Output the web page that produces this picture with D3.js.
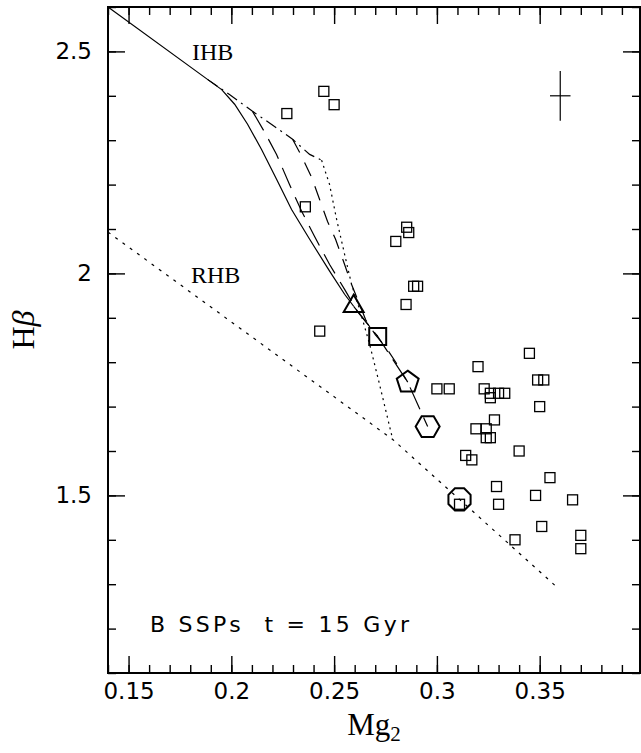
<!DOCTYPE html>
<html>
<head>
<meta charset="utf-8">
<script src="https://cdn.jsdelivr.net/npm/d3@7"></script>
<style>
  body { margin: 0; background: #fff; }
</style>
</head>
<body>
<div id="chart"></div>
<script>
// observed galaxies (Mg2, Hbeta)
var obsMg2 = [0.245, 0.250, 0.227, 0.236, 0.243, 0.285, 0.280, 0.2853, 0.2863, 0.2887, 0.2906,
  0.320, 0.300, 0.306, 0.323, 0.326, 0.330, 0.333, 0.326, 0.345, 0.349, 0.352, 0.350,
  0.328, 0.319, 0.324, 0.324, 0.326, 0.340, 0.314, 0.317, 0.355, 0.329, 0.348, 0.366,
  0.311, 0.330, 0.351, 0.338, 0.370, 0.370];
var obsHb = [2.41, 2.38, 2.36, 2.15, 1.87, 1.93, 2.072, 2.104, 2.092, 1.971, 1.971,
  1.79, 1.74, 1.74, 1.74, 1.73, 1.73, 1.73, 1.72, 1.82, 1.76, 1.76, 1.70,
  1.67, 1.65, 1.65, 1.63, 1.63, 1.60, 1.59, 1.58, 1.54, 1.52, 1.50, 1.49,
  1.48, 1.48, 1.43, 1.40, 1.41, 1.38];

// B SSP models, one symbol per metallicity
var sspShape = ["triangle", "square", "pentagon", "hexagon", "octagon"];
var sspMg2 = [0.2595, 0.2712, 0.2858, 0.2955, 0.311];
var sspHb = [1.926, 1.858, 1.755, 1.655, 1.491];

// IHB sequence and the mixed tracks
var ihbMg2 = [0.14, 0.1884, 0.1953, 0.2016, 0.2079, 0.2147, 0.2220, 0.2293, 0.2381, 0.2478, 0.2551, 0.2595];
var ihbHb = [2.60, 2.437, 2.414, 2.381, 2.336, 2.279, 2.212, 2.144, 2.077, 2.005, 1.953, 1.926];

var upMg2 = [0.1884, 0.1991, 0.2103, 0.2210, 0.2298, 0.2381, 0.2439];
var upHb = [2.437, 2.403, 2.365, 2.331, 2.302, 2.268, 2.255];

var mixAMg2 = [0.2103, 0.2162, 0.2220, 0.2283, 0.2342, 0.2405, 0.2478, 0.2551, 0.2614, 0.2712];
var mixAHb = [2.365, 2.318, 2.268, 2.200, 2.140, 2.083, 2.020, 1.964, 1.914, 1.858];

var mixBMg2 = [0.2298, 0.2342, 0.2391, 0.2429, 0.2468, 0.2507, 0.2551, 0.2585, 0.2624, 0.2653,
  0.2700, 0.2750, 0.2800, 0.2858];
var mixBHb = [2.302, 2.264, 2.216, 2.167, 2.117, 2.077, 2.020, 1.975, 1.930, 1.896,
  1.862, 1.835, 1.800, 1.755];

var mixCMg2 = [0.2439, 0.2478, 0.2512, 0.2551, 0.2585, 0.2624, 0.2673, 0.2721, 0.2785];
var mixCHb = [2.255, 2.200, 2.122, 2.043, 1.975, 1.919, 1.840, 1.750, 1.626];

// RHB sequence
var rhbMg2 = [0.14, 0.2785, 0.311, 0.358];
var rhbHb = [2.093, 1.626, 1.491, 1.295];

// typical error
var errMg2 = 0.36, errHb = 2.40, errDx = 0.005, errDy = 0.056;

var xMajor = [0.15, 0.2, 0.25, 0.3, 0.35];
var yMajor = [1.5, 2, 2.5];

var width = 641, height = 753;
var padL = 108, padR = 640, padT = 7, padB = 673;

var svg = d3.select("#chart").append("svg")
  .attr("width", width)
  .attr("height", height);

var x = d3.scaleLinear().domain([0.14, 0.3988]).range([padL, padR]);
var y = d3.scaleLinear().domain([1.1, 2.6]).range([padB, padT]);

var xMinor = d3.range(14, 40).map(function(d) { return d / 100; });
var yMinor = d3.range(11, 27).map(function(d) { return d / 10; });

function ticks(axisFn, scale, pos, values, size, labels, pad) {
  var g = svg.append("g")
    .attr("transform", pos)
    .call(axisFn(scale).tickValues(values).tickSize(-size).tickPadding(pad || 12)
      .tickFormat(labels ? function(d) { return d; } : ""));
  g.select(".domain").remove();
  g.selectAll(".tick line").attr("stroke", "#000").attr("stroke-width", 1.4);
  g.selectAll("text")
    .attr("font-family", "DejaVu Sans")
    .attr("font-size", 23)
    .attr("fill", "#000");
  return g;
}

ticks(d3.axisBottom, x, "translate(0," + padB + ")", xMinor, 8, false);
ticks(d3.axisBottom, x, "translate(0," + padB + ")", xMajor, 17, true, 10);
ticks(d3.axisTop, x, "translate(0," + padT + ")", xMinor, 8, false);
ticks(d3.axisTop, x, "translate(0," + padT + ")", xMajor, 17, false);
ticks(d3.axisLeft, y, "translate(" + padL + ",0)", yMinor, 8, false);
ticks(d3.axisLeft, y, "translate(" + padL + ",0)", yMajor, 17, true, 16);
ticks(d3.axisRight, y, "translate(" + padR + ",0)", yMinor, 8, false);
ticks(d3.axisRight, y, "translate(" + padR + ",0)", yMajor, 17, false);

svg.append("rect")
  .attr("x", padL).attr("y", padT)
  .attr("width", padR - padL).attr("height", padB - padT)
  .attr("fill", "none").attr("stroke", "#000").attr("stroke-width", 2);

var line = d3.line()
  .x(function(d) { return x(d[0]); })
  .y(function(d) { return y(d[1]); });

function track(xs, ys, dash) {
  svg.append("path")
    .datum(d3.zip(xs, ys))
    .attr("d", line)
    .attr("fill", "none")
    .attr("stroke", "#000")
    .attr("stroke-width", 1.2)
    .attr("stroke-dasharray", dash);
}

track(rhbMg2, rhbHb, "3,6");
track(ihbMg2, ihbHb, null);
track(upMg2, upHb, "12,5,2,5");
track(mixAMg2, mixAHb, "22,10");
track(mixBMg2, mixBHb, "15,11");
track(mixCMg2, mixCHb, "2,4");
track(sspMg2.slice(0, 4), sspHb.slice(0, 4), "24,9");

// observed points
svg.append("g").selectAll("rect")
  .data(d3.zip(obsMg2, obsHb))
  .join("rect")
  .attr("x", function(d) { return x(d[0]) - 5; })
  .attr("y", function(d) { return y(d[1]) - 5; })
  .attr("width", 10).attr("height", 10)
  .attr("fill", "none").attr("stroke", "#000").attr("stroke-width", 1.3);

// model symbols
function polygon(n, r, rot) {
  var pts = d3.range(n).map(function(i) {
    var a = rot + i * 2 * Math.PI / n;
    return [r * Math.sin(a), -r * Math.cos(a)];
  });
  return "M" + pts.join("L") + "Z";
}
var shapePath = {
  triangle: polygon(3, 11.5, 0),
  square: polygon(4, 12, Math.PI / 4),
  pentagon: polygon(5, 11.5, 0),
  hexagon: polygon(6, 12, Math.PI / 2),
  octagon: polygon(8, 12, Math.PI / 8)
};
svg.append("g").selectAll("path")
  .data(d3.range(sspShape.length))
  .join("path")
  .attr("transform", function(i) { return "translate(" + x(sspMg2[i]) + "," + y(sspHb[i]) + ")"; })
  .attr("d", function(i) { return shapePath[sspShape[i]]; })
  .attr("fill", "none").attr("stroke", "#000").attr("stroke-width", 2);

// error cross
svg.append("line")
  .attr("x1", x(errMg2)).attr("x2", x(errMg2))
  .attr("y1", y(errHb - errDy)).attr("y2", y(errHb + errDy))
  .attr("stroke", "#000").attr("stroke-width", 1.2);
svg.append("line")
  .attr("x1", x(errMg2 - errDx)).attr("x2", x(errMg2 + errDx))
  .attr("y1", y(errHb)).attr("y2", y(errHb))
  .attr("stroke", "#000").attr("stroke-width", 1.2);

// labels
svg.append("text").attr("x", 192).attr("y", 60)
  .attr("font-family", "Liberation Serif").attr("font-size", 24).text("IHB");
svg.append("text").attr("x", 191).attr("y", 283)
  .attr("font-family", "Liberation Serif").attr("font-size", 24).text("RHB");
svg.append("text").attr("x", 150).attr("y", 632)
  .attr("font-family", "DejaVu Sans").attr("font-size", 22)
  .attr("xml:space", "preserve")
  .attr("textLength", 259).attr("lengthAdjust", "spacing")
  .text("B SSPs  t = 15 Gyr");

var xl = svg.append("text").attr("x", (padL + padR) / 2).attr("y", 735)
  .attr("text-anchor", "middle")
  .attr("font-family", "Liberation Serif").attr("font-size", 31);
xl.append("tspan").text("Mg");
xl.append("tspan").attr("font-size", 21).attr("dy", 6).text("2");

var yl = svg.append("text")
  .attr("transform", "translate(34,330) rotate(-90)")
  .attr("text-anchor", "middle")
  .attr("font-family", "Liberation Serif").attr("font-size", 32);
yl.append("tspan").text("H");
yl.append("tspan").attr("font-style", "italic").text("\u03b2");
</script>
</body>
</html>
